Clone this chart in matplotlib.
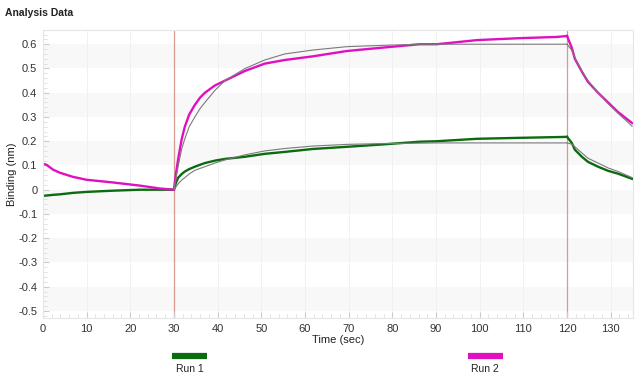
import matplotlib
matplotlib.use("Agg")
import matplotlib.pyplot as plt
from matplotlib.ticker import MultipleLocator

plt.rcParams['font.family'] = ['Liberation Sans', 'DejaVu Sans']

# ---- data ----
t_base = [0, 0.8, 2.4, 3.9, 6.9, 10, 16, 22.2, 26.8, 30]
run1_base = [-0.025, -0.024, -0.021, -0.019, -0.013, -0.009, -0.004, 0.0, 0.0, 0.0]
run2_base = [0.107, 0.103, 0.082, 0.07, 0.053, 0.041, 0.03, 0.017, 0.005, 0.0]

t_assoc = [30, 30.5, 31, 31.8, 32.5, 33.5, 34.8, 36, 37.1, 39.4, 41.7, 46.3, 50.8, 55.4, 61.8,
           69.6, 77.2, 86.3, 90.2, 99.4, 109.2, 117.7, 120]
run1_assoc = [0, 0.03, 0.05, 0.065, 0.075, 0.085, 0.095, 0.103, 0.11, 0.12, 0.127, 0.136, 0.148,
              0.156, 0.168, 0.177, 0.186, 0.198, 0.2, 0.21, 0.214, 0.217, 0.218]
run2_assoc = [0, 0.07, 0.13, 0.21, 0.26, 0.31, 0.35, 0.38, 0.40, 0.43, 0.45, 0.49, 0.52,
              0.535, 0.55, 0.572, 0.585, 0.60, 0.60, 0.617, 0.625, 0.63, 0.634]
fit1_assoc = [0, 0.012, 0.025, 0.04, 0.05, 0.065, 0.08, 0.088, 0.095, 0.11, 0.123, 0.144, 0.16,
              0.17, 0.18, 0.187, 0.19, 0.192, 0.193, 0.193, 0.193, 0.193, 0.193]
fit2_assoc = [0, 0.05, 0.10, 0.17, 0.21, 0.26, 0.30, 0.335, 0.36, 0.41, 0.45, 0.50, 0.535,
              0.56, 0.576, 0.59, 0.595, 0.6, 0.6, 0.6, 0.6, 0.6, 0.6]

t_diss = [120, 121.1, 121.8, 123.4, 124.8, 127.1, 129.4, 131.7, 134.9]
run1_diss = [0.218, 0.193, 0.165, 0.136, 0.115, 0.095, 0.078, 0.066, 0.045]
run2_diss = [0.634, 0.585, 0.54, 0.487, 0.445, 0.40, 0.36, 0.32, 0.275]
fit1_diss = [0.193, 0.188, 0.177, 0.152, 0.13, 0.11, 0.09, 0.075, 0.05]
fit2_diss = [0.6, 0.575, 0.545, 0.49, 0.45, 0.40, 0.355, 0.315, 0.262]

step_times = [30, 120]
run_names = ["Run 1", "Run 2"]
run_colors = ["#0b6b10", "#e010c0"]
x_ticks = list(range(0, 140, 10))
y_ticks = [-0.5, -0.4, -0.3, -0.2, -0.1, 0, 0.1, 0.2, 0.3, 0.4, 0.5, 0.6]
y_labels = ["-0.5", "-0.4", "-0.3", "-0.2", "-0.1", "0", "0.1", "0.2", "0.3", "0.4", "0.5", "0.6"]

fig = plt.figure(figsize=(6.4, 3.77), dpi=100)
ax = fig.add_axes([0.067, 0.1565, 0.922, 0.7635])
ax.set_xlim(0, 135.1)
ax.set_ylim(-0.529, 0.658)

# alternating bands
for lo in [-0.5, -0.3, -0.1, 0.1, 0.3, 0.5]:
    ax.axhspan(lo, lo + 0.1, color="#f8f8f8", zorder=0, lw=0)
for x in x_ticks:
    ax.axvline(x, color="#efefef", lw=0.6, zorder=0.5)

for st in step_times:
    ax.axvline(st, color="#d99a90", lw=0.9, zorder=1)

gray = "#7a7a7a"
ax.plot(t_assoc, fit1_assoc, color=gray, lw=0.8, zorder=3)
ax.plot(t_assoc, fit2_assoc, color=gray, lw=0.8, zorder=3)
ax.plot(t_diss, fit1_diss, color=gray, lw=0.8, zorder=3)
ax.plot(t_diss, fit2_diss, color=gray, lw=0.8, zorder=3)

for tt, y1, y2 in [(t_base, run1_base, run2_base), (t_assoc, run1_assoc, run2_assoc),
                   (t_diss, run1_diss, run2_diss)]:
    ax.plot(tt, y1, color=run_colors[0], lw=1.7, zorder=2)
    ax.plot(tt, y2, color=run_colors[1], lw=1.7, zorder=2)

ax.set_xticks(x_ticks)
ax.set_yticks(y_ticks)
ax.set_yticklabels(y_labels)
ax.xaxis.set_minor_locator(MultipleLocator(2))
ax.yaxis.set_minor_locator(MultipleLocator(0.02))
ax.tick_params(which="major", direction="in", length=4, color="#cccccc",
               labelsize=8, labelcolor="#333333", pad=4)
ax.tick_params(which="minor", direction="in", length=3, color="#dddddd")
for s in ax.spines.values():
    s.set_color("#e6e6e6")
    s.set_linewidth(0.8)

ax.set_xlabel("Time (sec)", fontsize=8, color="#222222", labelpad=1)
ax.set_ylabel("Binding (nm)", fontsize=8, color="#222222", labelpad=1)

fig.text(0.008, 0.965, "Analysis Data", fontsize=7.5, fontweight="bold",
         color="#222222", va="center", ha="left")

# legend below
leg_x = [189.5 / 640, 485 / 640]
for name, col, cx in zip(run_names, run_colors, leg_x):
    fig.add_artist(plt.Line2D([cx - 17.5 / 640, cx + 17.5 / 640], [1 - 355.5 / 377] * 2,
                              color=col, lw=4.5, solid_capstyle="butt"))
    fig.text(cx, 1 - 368.5 / 377, name, fontsize=7.5, color="#222222",
             ha="center", va="center")

fig.savefig("out.png", dpi=100)
